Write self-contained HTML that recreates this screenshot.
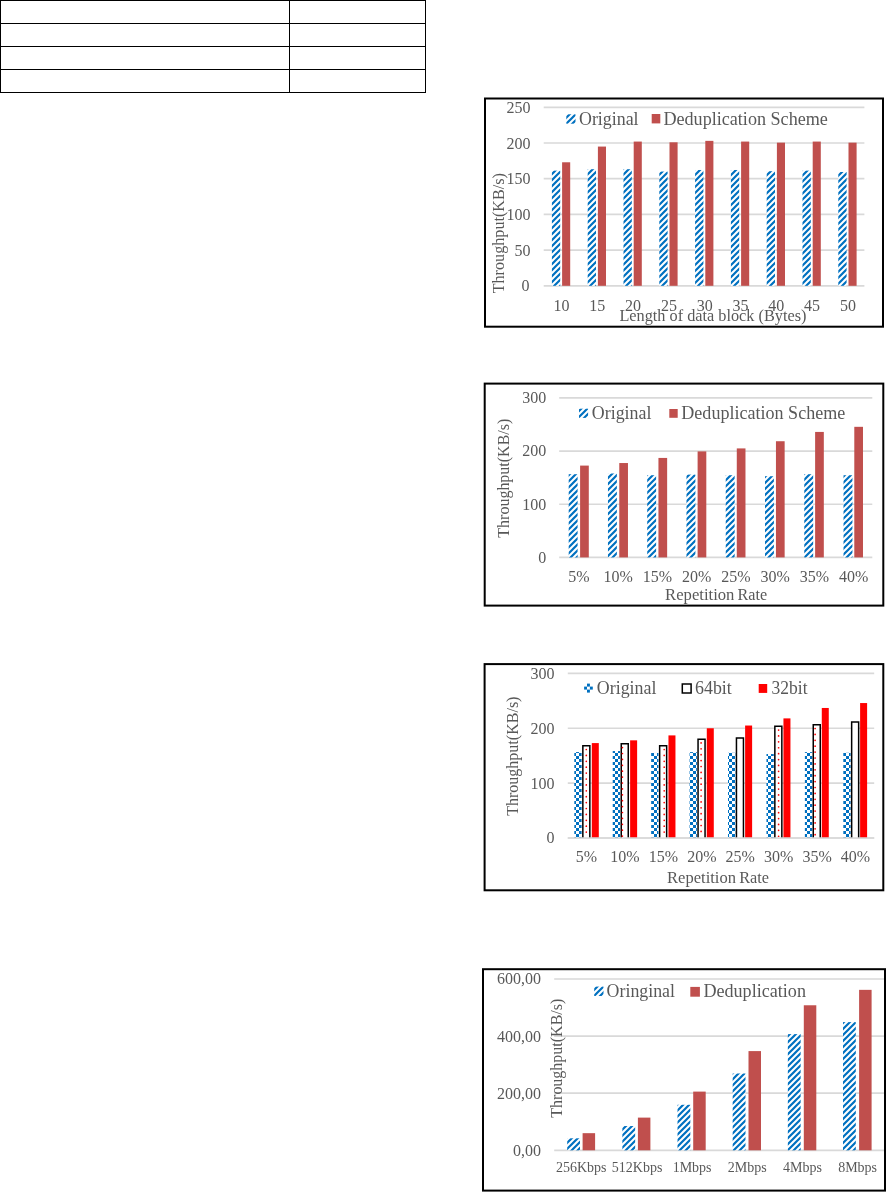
<!DOCTYPE html>
<html><head><meta charset="utf-8"><title>Figures</title>
<style>
html,body{margin:0;padding:0;background:#fff;}
body{width:886px;height:1192px;overflow:hidden;font-family:"Liberation Serif",serif;}
svg{display:block;position:absolute;left:0;top:0;}
svg text{font-family:"Liberation Serif",serif;fill:#595959;}
</style></head><body>
<svg width="886" height="1192" viewBox="0 0 886 1192">
<defs>
<pattern id="hatch" patternUnits="userSpaceOnUse" width="6" height="6">
<rect width="6" height="6" fill="#fff"/>
<path d="M-1.5,1.5 L1.5,-1.5 M-1,7 L7,-1 M4.5,7.5 L7.5,4.5" stroke="#0070C0" stroke-width="2.2" fill="none"/>
</pattern>
<pattern id="check" patternUnits="userSpaceOnUse" width="6" height="6">
<rect width="6" height="6" fill="#fff"/>
<rect x="0" y="0" width="3" height="3" fill="#0070C0"/>
<rect x="3" y="3" width="3" height="3" fill="#0070C0"/>
</pattern>
<filter id="soft" x="0" y="0" width="886" height="1192" filterUnits="userSpaceOnUse"><feGaussianBlur stdDeviation="0.4"/></filter>
</defs>
<rect x="0.00" y="0.00" width="426.00" height="1.00" fill="#000" />
<rect x="0.00" y="23.00" width="426.00" height="1.00" fill="#000" />
<rect x="0.00" y="46.00" width="426.00" height="1.00" fill="#000" />
<rect x="0.00" y="69.00" width="426.00" height="1.00" fill="#000" />
<rect x="0.00" y="92.00" width="426.00" height="1.00" fill="#000" />
<rect x="0.00" y="0.00" width="1.00" height="93.00" fill="#000" />
<rect x="289.00" y="0.00" width="1.00" height="93.00" fill="#000" />
<rect x="425.00" y="0.00" width="1.00" height="93.00" fill="#000" />
<g filter="url(#soft)">
<rect x="485.00" y="98.50" width="398.00" height="228.20" fill="#fff" stroke="#000" stroke-width="2"/>
<line x1="543.70" y1="107.30" x2="864.40" y2="107.30" stroke="#D9D9D9" stroke-width="1.7"/>
<text x="530.60" y="112.90" font-size="16" text-anchor="end" >250</text>
<line x1="543.70" y1="143.00" x2="864.40" y2="143.00" stroke="#D9D9D9" stroke-width="1.7"/>
<text x="530.60" y="148.60" font-size="16" text-anchor="end" >200</text>
<line x1="543.70" y1="178.70" x2="864.40" y2="178.70" stroke="#D9D9D9" stroke-width="1.7"/>
<text x="530.60" y="184.30" font-size="16" text-anchor="end" >150</text>
<line x1="543.70" y1="214.40" x2="864.40" y2="214.40" stroke="#D9D9D9" stroke-width="1.7"/>
<text x="530.60" y="220.00" font-size="16" text-anchor="end" >100</text>
<line x1="543.70" y1="250.10" x2="864.40" y2="250.10" stroke="#D9D9D9" stroke-width="1.7"/>
<text x="530.60" y="255.70" font-size="16" text-anchor="end" >50</text>
<line x1="543.70" y1="285.80" x2="864.40" y2="285.80" stroke="#D9D9D9" stroke-width="1.7"/>
<text x="529.60" y="291.40" font-size="16" text-anchor="end" >0</text>
<rect x="551.90" y="170.63" width="8.30" height="115.17" fill="url(#hatch)" />
<rect x="562.10" y="162.28" width="8.10" height="123.52" fill="#C0504D" />
<text x="561.50" y="310.60" font-size="16" text-anchor="middle" >10</text>
<rect x="587.70" y="169.20" width="8.30" height="116.60" fill="url(#hatch)" />
<rect x="597.90" y="146.57" width="8.10" height="139.23" fill="#C0504D" />
<text x="597.30" y="310.60" font-size="16" text-anchor="middle" >15</text>
<rect x="623.50" y="169.20" width="8.30" height="116.60" fill="url(#hatch)" />
<rect x="633.70" y="141.57" width="8.10" height="144.23" fill="#C0504D" />
<text x="633.10" y="310.60" font-size="16" text-anchor="middle" >20</text>
<rect x="659.30" y="171.56" width="8.30" height="114.24" fill="url(#hatch)" />
<rect x="669.50" y="142.29" width="8.10" height="143.51" fill="#C0504D" />
<text x="668.90" y="310.60" font-size="16" text-anchor="middle" >25</text>
<rect x="695.10" y="169.99" width="8.30" height="115.81" fill="url(#hatch)" />
<rect x="705.30" y="140.86" width="8.10" height="144.94" fill="#C0504D" />
<text x="704.70" y="310.60" font-size="16" text-anchor="middle" >30</text>
<rect x="730.90" y="169.99" width="8.30" height="115.81" fill="url(#hatch)" />
<rect x="741.10" y="141.57" width="8.10" height="144.23" fill="#C0504D" />
<text x="740.50" y="310.60" font-size="16" text-anchor="middle" >35</text>
<rect x="766.70" y="171.20" width="8.30" height="114.60" fill="url(#hatch)" />
<rect x="776.90" y="142.64" width="8.10" height="143.16" fill="#C0504D" />
<text x="776.30" y="310.60" font-size="16" text-anchor="middle" >40</text>
<rect x="802.50" y="170.63" width="8.30" height="115.17" fill="url(#hatch)" />
<rect x="812.70" y="141.57" width="8.10" height="144.23" fill="#C0504D" />
<text x="812.10" y="310.60" font-size="16" text-anchor="middle" >45</text>
<rect x="838.30" y="171.99" width="8.30" height="113.81" fill="url(#hatch)" />
<rect x="848.50" y="142.64" width="8.10" height="143.16" fill="#C0504D" />
<text x="847.90" y="310.60" font-size="16" text-anchor="middle" >50</text>
<text x="712.90" y="320.60" font-size="16" text-anchor="middle" textLength="187" lengthAdjust="spacingAndGlyphs" >Length of data block (Bytes)</text>
<text transform="translate(503.50,233.20) rotate(-90)" font-size="16" text-anchor="middle" textLength="120.3" lengthAdjust="spacingAndGlyphs">Throughput(KB/s)</text>
<rect x="566.30" y="114.30" width="9.20" height="9.40" fill="url(#hatch)" />
<text x="579.00" y="124.50" font-size="18" text-anchor="start" textLength="59.6" lengthAdjust="spacingAndGlyphs" >Original</text>
<rect x="651.70" y="114.00" width="8.60" height="9.40" fill="#C0504D" />
<text x="663.40" y="124.50" font-size="18" text-anchor="start" textLength="164.5" lengthAdjust="spacingAndGlyphs" >Deduplication Scheme</text>
<rect x="484.70" y="383.60" width="398.60" height="222.00" fill="#fff" stroke="#000" stroke-width="2"/>
<line x1="559.20" y1="397.90" x2="872.30" y2="397.90" stroke="#D9D9D9" stroke-width="1.7"/>
<text x="546.20" y="403.30" font-size="16" text-anchor="end" >300</text>
<line x1="559.20" y1="451.07" x2="872.30" y2="451.07" stroke="#D9D9D9" stroke-width="1.7"/>
<text x="546.20" y="456.47" font-size="16" text-anchor="end" >200</text>
<line x1="559.20" y1="504.24" x2="872.30" y2="504.24" stroke="#D9D9D9" stroke-width="1.7"/>
<text x="546.20" y="509.64" font-size="16" text-anchor="end" >100</text>
<line x1="559.20" y1="557.41" x2="872.30" y2="557.41" stroke="#D9D9D9" stroke-width="1.7"/>
<text x="546.20" y="562.81" font-size="16" text-anchor="end" >0</text>
<rect x="568.70" y="474.20" width="8.90" height="83.21" fill="url(#hatch)" />
<rect x="580.10" y="465.59" width="8.70" height="91.82" fill="#C0504D" />
<text x="578.90" y="581.70" font-size="16" text-anchor="middle" >5%</text>
<rect x="607.96" y="473.51" width="8.90" height="83.90" fill="url(#hatch)" />
<rect x="619.27" y="463.03" width="8.70" height="94.38" fill="#C0504D" />
<text x="618.16" y="581.70" font-size="16" text-anchor="middle" >10%</text>
<rect x="647.22" y="475.21" width="8.90" height="82.20" fill="url(#hatch)" />
<rect x="658.44" y="457.93" width="8.70" height="99.48" fill="#C0504D" />
<text x="657.42" y="581.70" font-size="16" text-anchor="middle" >15%</text>
<rect x="686.48" y="474.62" width="8.90" height="82.79" fill="url(#hatch)" />
<rect x="697.61" y="451.39" width="8.70" height="106.02" fill="#C0504D" />
<text x="696.68" y="581.70" font-size="16" text-anchor="middle" >20%</text>
<rect x="725.74" y="475.21" width="8.90" height="82.20" fill="url(#hatch)" />
<rect x="736.78" y="448.41" width="8.70" height="109.00" fill="#C0504D" />
<text x="735.94" y="581.70" font-size="16" text-anchor="middle" >25%</text>
<rect x="765.00" y="476.22" width="8.90" height="81.19" fill="url(#hatch)" />
<rect x="775.95" y="441.23" width="8.70" height="116.18" fill="#C0504D" />
<text x="775.20" y="581.70" font-size="16" text-anchor="middle" >30%</text>
<rect x="804.26" y="474.20" width="8.90" height="83.21" fill="url(#hatch)" />
<rect x="815.12" y="431.93" width="8.70" height="125.48" fill="#C0504D" />
<text x="814.46" y="581.70" font-size="16" text-anchor="middle" >35%</text>
<rect x="843.52" y="475.21" width="8.90" height="82.20" fill="url(#hatch)" />
<rect x="854.29" y="426.82" width="8.70" height="130.59" fill="#C0504D" />
<text x="853.72" y="581.70" font-size="16" text-anchor="middle" >40%</text>
<text x="665.10" y="600.00" font-size="16" text-anchor="start" textLength="69.3" lengthAdjust="spacingAndGlyphs" >Repetition</text>
<text x="737.60" y="600.00" font-size="16" text-anchor="start" textLength="29.6" lengthAdjust="spacingAndGlyphs" >Rate</text>
<text transform="translate(509.00,478.20) rotate(-90)" font-size="16" text-anchor="middle" textLength="118.9" lengthAdjust="spacingAndGlyphs">Throughput(KB/s)</text>
<rect x="579.00" y="408.70" width="9.10" height="9.20" fill="url(#hatch)" />
<text x="591.80" y="419.40" font-size="18" text-anchor="start" textLength="59.6" lengthAdjust="spacingAndGlyphs" >Original</text>
<rect x="669.30" y="409.00" width="8.40" height="8.80" fill="#C0504D" />
<text x="681.30" y="419.40" font-size="18" text-anchor="start" textLength="164.0" lengthAdjust="spacingAndGlyphs" >Deduplication Scheme</text>
<rect x="484.60" y="664.10" width="398.70" height="226.20" fill="#fff" stroke="#000" stroke-width="2"/>
<line x1="567.80" y1="673.40" x2="874.20" y2="673.40" stroke="#D9D9D9" stroke-width="1.7"/>
<text x="554.40" y="678.80" font-size="16" text-anchor="end" >300</text>
<line x1="567.80" y1="728.27" x2="874.20" y2="728.27" stroke="#D9D9D9" stroke-width="1.7"/>
<text x="554.40" y="733.67" font-size="16" text-anchor="end" >200</text>
<line x1="567.80" y1="783.14" x2="874.20" y2="783.14" stroke="#D9D9D9" stroke-width="1.7"/>
<text x="554.40" y="788.54" font-size="16" text-anchor="end" >100</text>
<line x1="567.80" y1="838.01" x2="874.20" y2="838.01" stroke="#D9D9D9" stroke-width="1.7"/>
<text x="554.40" y="843.41" font-size="16" text-anchor="end" >0</text>
<rect x="574.30" y="752.03" width="7.30" height="85.98" fill="url(#check)" />
<path d="M582.85,838.01 V745.76 H589.85 V838.01" fill="#fff" stroke="#000" stroke-width="1.5"/>
<circle cx="586.30" cy="749.51" r="0.85" fill="#FF0000"/>
<circle cx="586.30" cy="755.41" r="0.85" fill="#FF0000"/>
<circle cx="586.30" cy="761.31" r="0.85" fill="#FF0000"/>
<circle cx="586.30" cy="767.21" r="0.85" fill="#FF0000"/>
<circle cx="586.30" cy="773.11" r="0.85" fill="#FF0000"/>
<circle cx="586.30" cy="779.01" r="0.85" fill="#FF0000"/>
<circle cx="586.30" cy="784.91" r="0.85" fill="#FF0000"/>
<circle cx="586.30" cy="790.81" r="0.85" fill="#FF0000"/>
<circle cx="586.30" cy="796.71" r="0.85" fill="#FF0000"/>
<circle cx="586.30" cy="802.61" r="0.85" fill="#FF0000"/>
<circle cx="586.30" cy="808.51" r="0.85" fill="#FF0000"/>
<circle cx="586.30" cy="814.41" r="0.85" fill="#FF0000"/>
<circle cx="586.30" cy="820.31" r="0.85" fill="#FF0000"/>
<circle cx="586.30" cy="826.21" r="0.85" fill="#FF0000"/>
<circle cx="586.30" cy="832.11" r="0.85" fill="#FF0000"/>
<rect x="591.80" y="743.08" width="7.00" height="94.93" fill="#FF0000" />
<text x="586.50" y="862.20" font-size="16" text-anchor="middle" >5%</text>
<rect x="612.73" y="751.04" width="7.30" height="86.97" fill="url(#check)" />
<path d="M621.25,838.01 V743.83 H628.25 V838.01" fill="#fff" stroke="#000" stroke-width="1.5"/>
<circle cx="622.40" cy="747.58" r="0.85" fill="#FF0000"/>
<circle cx="622.40" cy="753.48" r="0.85" fill="#FF0000"/>
<circle cx="622.40" cy="759.38" r="0.85" fill="#FF0000"/>
<circle cx="622.40" cy="765.28" r="0.85" fill="#FF0000"/>
<circle cx="622.40" cy="771.18" r="0.85" fill="#FF0000"/>
<circle cx="622.40" cy="777.08" r="0.85" fill="#FF0000"/>
<circle cx="622.40" cy="782.98" r="0.85" fill="#FF0000"/>
<circle cx="622.40" cy="788.88" r="0.85" fill="#FF0000"/>
<circle cx="622.40" cy="794.78" r="0.85" fill="#FF0000"/>
<circle cx="622.40" cy="800.68" r="0.85" fill="#FF0000"/>
<circle cx="622.40" cy="806.58" r="0.85" fill="#FF0000"/>
<circle cx="622.40" cy="812.48" r="0.85" fill="#FF0000"/>
<circle cx="622.40" cy="818.38" r="0.85" fill="#FF0000"/>
<circle cx="622.40" cy="824.28" r="0.85" fill="#FF0000"/>
<circle cx="622.40" cy="830.18" r="0.85" fill="#FF0000"/>
<circle cx="622.40" cy="836.08" r="0.85" fill="#FF0000"/>
<rect x="630.13" y="740.34" width="7.00" height="97.67" fill="#FF0000" />
<text x="624.93" y="862.20" font-size="16" text-anchor="middle" >10%</text>
<rect x="651.16" y="752.96" width="7.30" height="85.05" fill="url(#check)" />
<path d="M659.65,838.01 V745.76 H666.65 V838.01" fill="#fff" stroke="#000" stroke-width="1.5"/>
<circle cx="664.20" cy="749.51" r="0.85" fill="#FF0000"/>
<circle cx="664.20" cy="755.41" r="0.85" fill="#FF0000"/>
<circle cx="664.20" cy="761.31" r="0.85" fill="#FF0000"/>
<circle cx="664.20" cy="767.21" r="0.85" fill="#FF0000"/>
<circle cx="664.20" cy="773.11" r="0.85" fill="#FF0000"/>
<circle cx="664.20" cy="779.01" r="0.85" fill="#FF0000"/>
<circle cx="664.20" cy="784.91" r="0.85" fill="#FF0000"/>
<circle cx="664.20" cy="790.81" r="0.85" fill="#FF0000"/>
<circle cx="664.20" cy="796.71" r="0.85" fill="#FF0000"/>
<circle cx="664.20" cy="802.61" r="0.85" fill="#FF0000"/>
<circle cx="664.20" cy="808.51" r="0.85" fill="#FF0000"/>
<circle cx="664.20" cy="814.41" r="0.85" fill="#FF0000"/>
<circle cx="664.20" cy="820.31" r="0.85" fill="#FF0000"/>
<circle cx="664.20" cy="826.21" r="0.85" fill="#FF0000"/>
<circle cx="664.20" cy="832.11" r="0.85" fill="#FF0000"/>
<rect x="668.46" y="735.40" width="7.00" height="102.61" fill="#FF0000" />
<text x="663.36" y="862.20" font-size="16" text-anchor="middle" >15%</text>
<rect x="689.59" y="752.14" width="7.30" height="85.87" fill="url(#check)" />
<path d="M698.05,838.01 V739.17 H705.05 V838.01" fill="#fff" stroke="#000" stroke-width="1.5"/>
<circle cx="701.10" cy="742.92" r="0.85" fill="#FF0000"/>
<circle cx="701.10" cy="748.82" r="0.85" fill="#FF0000"/>
<circle cx="701.10" cy="754.72" r="0.85" fill="#FF0000"/>
<circle cx="701.10" cy="760.62" r="0.85" fill="#FF0000"/>
<circle cx="701.10" cy="766.52" r="0.85" fill="#FF0000"/>
<circle cx="701.10" cy="772.42" r="0.85" fill="#FF0000"/>
<circle cx="701.10" cy="778.32" r="0.85" fill="#FF0000"/>
<circle cx="701.10" cy="784.22" r="0.85" fill="#FF0000"/>
<circle cx="701.10" cy="790.12" r="0.85" fill="#FF0000"/>
<circle cx="701.10" cy="796.02" r="0.85" fill="#FF0000"/>
<circle cx="701.10" cy="801.92" r="0.85" fill="#FF0000"/>
<circle cx="701.10" cy="807.82" r="0.85" fill="#FF0000"/>
<circle cx="701.10" cy="813.72" r="0.85" fill="#FF0000"/>
<circle cx="701.10" cy="819.62" r="0.85" fill="#FF0000"/>
<circle cx="701.10" cy="825.52" r="0.85" fill="#FF0000"/>
<circle cx="701.10" cy="831.42" r="0.85" fill="#FF0000"/>
<rect x="706.79" y="728.27" width="7.00" height="109.74" fill="#FF0000" />
<text x="701.79" y="862.20" font-size="16" text-anchor="middle" >20%</text>
<rect x="728.02" y="752.80" width="7.30" height="85.21" fill="url(#check)" />
<path d="M736.45,838.01 V737.96 H743.45 V838.01" fill="#fff" stroke="#000" stroke-width="1.5"/>
<rect x="745.12" y="725.53" width="7.00" height="112.48" fill="#FF0000" />
<text x="740.22" y="862.20" font-size="16" text-anchor="middle" >25%</text>
<rect x="766.45" y="754.06" width="7.30" height="83.95" fill="url(#check)" />
<path d="M774.85,838.01 V726.28 H781.85 V838.01" fill="#fff" stroke="#000" stroke-width="1.5"/>
<circle cx="778.60" cy="730.03" r="0.85" fill="#FF0000"/>
<circle cx="778.60" cy="735.93" r="0.85" fill="#FF0000"/>
<circle cx="778.60" cy="741.83" r="0.85" fill="#FF0000"/>
<circle cx="778.60" cy="747.73" r="0.85" fill="#FF0000"/>
<circle cx="778.60" cy="753.63" r="0.85" fill="#FF0000"/>
<circle cx="778.60" cy="759.53" r="0.85" fill="#FF0000"/>
<circle cx="778.60" cy="765.43" r="0.85" fill="#FF0000"/>
<circle cx="778.60" cy="771.33" r="0.85" fill="#FF0000"/>
<circle cx="778.60" cy="777.23" r="0.85" fill="#FF0000"/>
<circle cx="778.60" cy="783.13" r="0.85" fill="#FF0000"/>
<circle cx="778.60" cy="789.03" r="0.85" fill="#FF0000"/>
<circle cx="778.60" cy="794.93" r="0.85" fill="#FF0000"/>
<circle cx="778.60" cy="800.83" r="0.85" fill="#FF0000"/>
<circle cx="778.60" cy="806.73" r="0.85" fill="#FF0000"/>
<circle cx="778.60" cy="812.63" r="0.85" fill="#FF0000"/>
<circle cx="778.60" cy="818.53" r="0.85" fill="#FF0000"/>
<circle cx="778.60" cy="824.43" r="0.85" fill="#FF0000"/>
<circle cx="778.60" cy="830.33" r="0.85" fill="#FF0000"/>
<circle cx="778.60" cy="836.23" r="0.85" fill="#FF0000"/>
<rect x="783.45" y="718.39" width="7.00" height="119.62" fill="#FF0000" />
<text x="778.65" y="862.20" font-size="16" text-anchor="middle" >30%</text>
<rect x="804.88" y="752.14" width="7.30" height="85.87" fill="url(#check)" />
<path d="M813.25,838.01 V724.74 H820.25 V838.01" fill="#fff" stroke="#000" stroke-width="1.5"/>
<circle cx="815.10" cy="728.49" r="0.85" fill="#FF0000"/>
<circle cx="815.10" cy="734.39" r="0.85" fill="#FF0000"/>
<circle cx="815.10" cy="740.29" r="0.85" fill="#FF0000"/>
<circle cx="815.10" cy="746.19" r="0.85" fill="#FF0000"/>
<circle cx="815.10" cy="752.09" r="0.85" fill="#FF0000"/>
<circle cx="815.10" cy="757.99" r="0.85" fill="#FF0000"/>
<circle cx="815.10" cy="763.89" r="0.85" fill="#FF0000"/>
<circle cx="815.10" cy="769.79" r="0.85" fill="#FF0000"/>
<circle cx="815.10" cy="775.69" r="0.85" fill="#FF0000"/>
<circle cx="815.10" cy="781.59" r="0.85" fill="#FF0000"/>
<circle cx="815.10" cy="787.49" r="0.85" fill="#FF0000"/>
<circle cx="815.10" cy="793.39" r="0.85" fill="#FF0000"/>
<circle cx="815.10" cy="799.29" r="0.85" fill="#FF0000"/>
<circle cx="815.10" cy="805.19" r="0.85" fill="#FF0000"/>
<circle cx="815.10" cy="811.09" r="0.85" fill="#FF0000"/>
<circle cx="815.10" cy="816.99" r="0.85" fill="#FF0000"/>
<circle cx="815.10" cy="822.89" r="0.85" fill="#FF0000"/>
<circle cx="815.10" cy="828.79" r="0.85" fill="#FF0000"/>
<circle cx="815.10" cy="834.69" r="0.85" fill="#FF0000"/>
<rect x="821.78" y="707.97" width="7.00" height="130.04" fill="#FF0000" />
<text x="817.08" y="862.20" font-size="16" text-anchor="middle" >35%</text>
<rect x="843.31" y="752.80" width="7.30" height="85.21" fill="url(#check)" />
<path d="M851.65,838.01 V721.89 H858.65 V838.01" fill="#fff" stroke="#000" stroke-width="1.5"/>
<rect x="860.11" y="703.03" width="7.00" height="134.98" fill="#FF0000" />
<text x="855.51" y="862.20" font-size="16" text-anchor="middle" >40%</text>
<line x1="567.80" y1="838.01" x2="874.20" y2="838.01" stroke="#D9D9D9" stroke-width="1.7"/>
<text x="667.10" y="883.00" font-size="16" text-anchor="start" textLength="68.9" lengthAdjust="spacingAndGlyphs" >Repetition</text>
<text x="739.20" y="883.00" font-size="16" text-anchor="start" textLength="29.8" lengthAdjust="spacingAndGlyphs" >Rate</text>
<text transform="translate(518.40,756.20) rotate(-90)" font-size="16" text-anchor="middle" textLength="119.3" lengthAdjust="spacingAndGlyphs">Throughput(KB/s)</text>
<rect x="587.00" y="683.60" width="2.90" height="3.00" fill="#0070C0" />
<rect x="584.10" y="686.60" width="2.90" height="3.00" fill="#0070C0" />
<rect x="589.90" y="686.60" width="2.90" height="3.00" fill="#0070C0" />
<rect x="587.00" y="689.60" width="2.90" height="3.00" fill="#0070C0" />
<text x="596.80" y="693.60" font-size="18" text-anchor="start" textLength="59.6" lengthAdjust="spacingAndGlyphs" >Original</text>
<rect x="682.3" y="684.0" width="8.8" height="9.0" fill="#fff" stroke="#000" stroke-width="1.5"/>
<text x="695.00" y="693.60" font-size="18" text-anchor="start" textLength="36.8" lengthAdjust="spacingAndGlyphs" >64bit</text>
<rect x="758.70" y="684.00" width="8.50" height="8.90" fill="#FF0000" />
<text x="771.60" y="693.60" font-size="18" text-anchor="start" textLength="36.0" lengthAdjust="spacingAndGlyphs" >32bit</text>
<rect x="483.00" y="969.20" width="402.00" height="221.40" fill="#fff" stroke="#000" stroke-width="2"/>
<line x1="554.20" y1="979.00" x2="884.00" y2="979.00" stroke="#D9D9D9" stroke-width="1.7"/>
<text x="540.90" y="984.40" font-size="16" text-anchor="end" >600,00</text>
<line x1="554.20" y1="1036.10" x2="884.00" y2="1036.10" stroke="#D9D9D9" stroke-width="1.7"/>
<text x="540.90" y="1041.50" font-size="16" text-anchor="end" >400,00</text>
<line x1="554.20" y1="1093.20" x2="884.00" y2="1093.20" stroke="#D9D9D9" stroke-width="1.7"/>
<text x="540.90" y="1098.60" font-size="16" text-anchor="end" >200,00</text>
<line x1="554.20" y1="1150.30" x2="884.00" y2="1150.30" stroke="#D9D9D9" stroke-width="1.7"/>
<text x="540.90" y="1155.70" font-size="16" text-anchor="end" >0,00</text>
<rect x="567.20" y="1138.31" width="12.80" height="11.99" fill="url(#hatch)" />
<rect x="582.60" y="1133.17" width="12.50" height="17.13" fill="#C0504D" />
<text x="581.20" y="1172.20" font-size="14" text-anchor="middle" >256Kbps</text>
<rect x="622.36" y="1126.03" width="12.80" height="24.27" fill="url(#hatch)" />
<rect x="637.90" y="1117.61" width="12.50" height="32.69" fill="#C0504D" />
<text x="637.06" y="1172.20" font-size="14" text-anchor="middle" >512Kbps</text>
<rect x="677.52" y="1104.79" width="12.80" height="45.51" fill="url(#hatch)" />
<rect x="693.20" y="1091.60" width="12.50" height="58.70" fill="#C0504D" />
<text x="692.12" y="1172.20" font-size="14" text-anchor="middle" >1Mbps</text>
<rect x="732.68" y="1073.50" width="12.80" height="76.80" fill="url(#hatch)" />
<rect x="748.50" y="1051.09" width="12.50" height="99.21" fill="#C0504D" />
<text x="747.28" y="1172.20" font-size="14" text-anchor="middle" >2Mbps</text>
<rect x="787.84" y="1034.10" width="12.80" height="116.20" fill="url(#hatch)" />
<rect x="803.80" y="1005.27" width="12.50" height="145.03" fill="#C0504D" />
<text x="802.44" y="1172.20" font-size="14" text-anchor="middle" >4Mbps</text>
<rect x="843.00" y="1022.11" width="12.80" height="128.19" fill="url(#hatch)" />
<rect x="859.10" y="989.85" width="12.50" height="160.45" fill="#C0504D" />
<text x="857.60" y="1172.20" font-size="14" text-anchor="middle" >8Mbps</text>
<text transform="translate(562.30,1058.20) rotate(-90)" font-size="16" text-anchor="middle" textLength="119.0" lengthAdjust="spacingAndGlyphs">Throughput(KB/s)</text>
<rect x="594.20" y="986.60" width="9.30" height="9.40" fill="url(#hatch)" />
<text x="606.60" y="997.00" font-size="18" text-anchor="start" textLength="68.4" lengthAdjust="spacingAndGlyphs" >Oringinal</text>
<rect x="690.30" y="986.90" width="9.60" height="9.80" fill="#C0504D" />
<text x="703.40" y="997.00" font-size="18" text-anchor="start" textLength="102.6" lengthAdjust="spacingAndGlyphs" >Deduplication</text>
</g>
</svg>
</body></html>
